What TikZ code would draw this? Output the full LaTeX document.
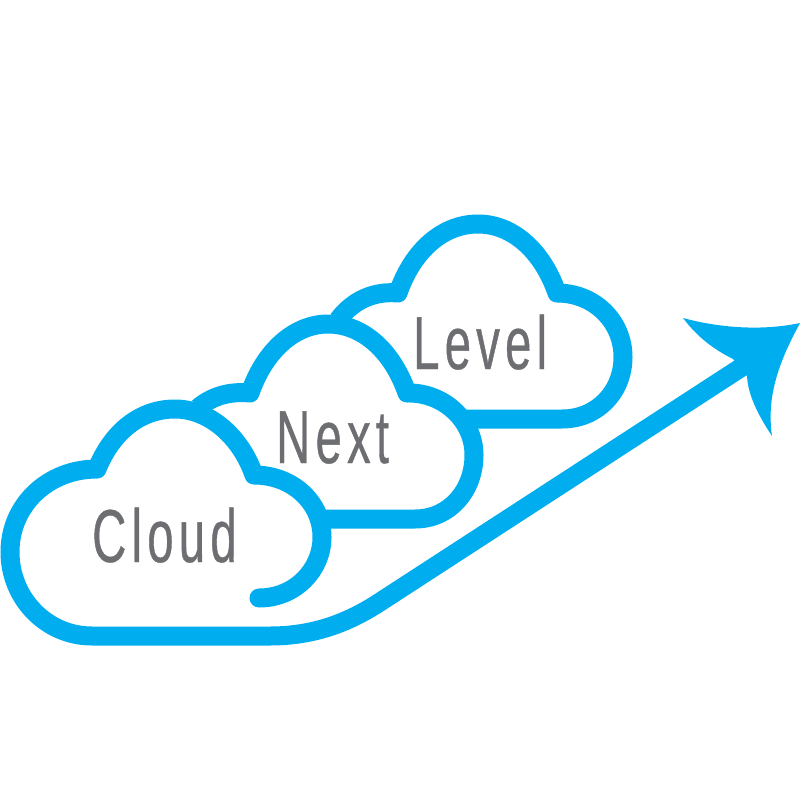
\documentclass[tikz,border=0pt]{standalone}
\usepackage{fontspec}
\newfontfamily\cloudfont[FakeStretch=0.63,LetterSpace=7,FakeBold=0.5]{Liberation Sans}
\definecolor{cloudblue}{HTML}{00AEEF}
\definecolor{cloudgray}{HTML}{6D6E71}
\tikzset{
  cloudline/.style={draw=cloudblue, line width=19pt, line join=round, line cap=round},
  cloudtext/.style={text=cloudgray, inner sep=0pt, anchor=base west, font=\cloudfont\fontsize{75}{75}\selectfont}
}
\begin{document}
\begin{tikzpicture}[x=1pt, y=-1pt]
\useasboundingbox (0,0) rectangle (800,800);
% back cloud
\draw[cloudline, line cap=butt] (338,320) .. controls (354,299) and (375,291) .. (398,293)
  .. controls (413,250) and (443,224) .. (478,224)
  .. controls (512,224) and (542,250) .. (557,293)
  .. controls (595,293) and (623,322) .. (623,357)
  .. controls (623,392) and (597,419) .. (562,419) -- (466,419);
% middle cloud
\draw[cloudline, line cap=butt] (198,408) .. controls (212,396) and (230,391) .. (250,393)
  .. controls (265,350) and (295,324) .. (328,324)
  .. controls (362,324) and (392,350) .. (407,393)
  .. controls (443,392) and (474,420) .. (474,455)
  .. controls (474,490) and (450,519) .. (415,519) -- (325,519);
% front cloud and arrow line
\draw[cloudline] (259,598) .. controls (295,598) and (322,570) .. (322,537)
  .. controls (322,503) and (293,475) .. (254,475)
  .. controls (240,435) and (208,409) .. (175,409)
  .. controls (140,409) and (112,432) .. (97,469)
  .. controls (48,469) and (10,505) .. (10,552)
  .. controls (10,598) and (46,636) .. (92,636) -- (270,636)
  .. controls (310,636) and (345,625) .. (380,602) -- (745,365);
% arrow head
\fill[cloudblue] (683,318) .. controls (720,328) and (762,331) .. (800,323)
  .. controls (780,360) and (766,395) .. (772,436)
  .. controls (758,415) and (748,395) .. (747,376)
  -- (733,359) .. controls (715,350) and (698,338) .. (683,318) -- cycle;
\node[cloudtext] (cloud) at (92,562) {Cloud};
\node[cloudtext] (next) at (276,463) {Next};
\node[cloudtext] (level) at (413,369) {Level};
\end{tikzpicture}
\end{document}
